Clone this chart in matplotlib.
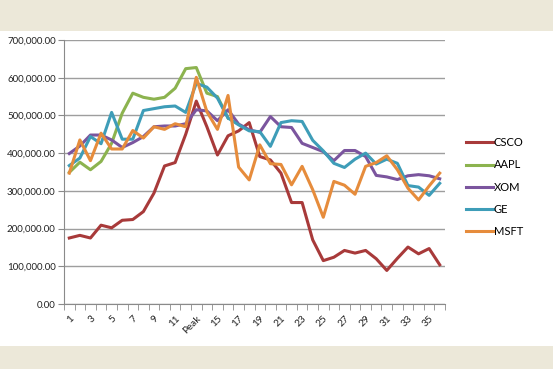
import numpy as np
import matplotlib
matplotlib.use("Agg")
import matplotlib.pyplot as plt
from matplotlib.patches import Rectangle
from matplotlib.ticker import FuncFormatter

# data (36 periods, peak at 13)
periods = list(range(1, 37))
tick_labels = ['1', '3', '5', '7', '9', '11', 'Peak', '15', '17', '19', '21',
               '23', '25', '27', '29', '31', '33', '35']

csco = [175000, 182000, 175000, 209000, 202000, 222000, 224000, 245000, 294000,
        366000, 375000, 450000, 538000, 470000, 395000, 446000, 459000, 481000,
        391000, 382000, 347000, 269000, 269000, 170000, 115000, 124000, 142000,
        135000, 142000, 120000, 89000, 121000, 151000, 133000, 147000, 104000]
aapl = [349000, 376000, 356000, 378000, 426000, 506000, 559000, 548000, 543000,
        548000, 572000, 624000, 627000, 559000, 550000, 493000] + [np.nan] * 20
xom = [399000, 419000, 448000, 448000, 435000, 415000, 428000, 444000, 470000,
       472000, 472000, 478000, 515000, 512000, 486000, 515000, 477000, 462000,
       455000, 497000, 470000, 468000, 426000, 415000, 404000, 380000, 407000,
       407000, 391000, 341000, 337000, 330000, 340000, 343000, 340000, 332000]
ge = [367000, 387000, 444000, 425000, 508000, 437000, 437000, 513000, 518000,
      523000, 525000, 508000, 585000, 575000, 546000, 493000, 475000, 459000,
      457000, 418000, 481000, 486000, 484000, 434000, 406000, 373000, 362000,
      384000, 400000, 371000, 384000, 373000, 314000, 310000, 288000, 320000]
msft = [347000, 435000, 380000, 453000, 411000, 411000, 460000, 440000, 470000,
        463000, 478000, 470000, 601000, 510000, 463000, 553000, 363000, 329000,
        422000, 372000, 370000, 316000, 365000, 303000, 230000, 325000, 315000,
        291000, 365000, 375000, 393000, 356000, 307000, 276000, 313000, 347000]

series = [('CSCO', csco, '#A83A3A'), ('AAPL', aapl, '#8CB34F'),
          ('XOM', xom, '#7B559E'), ('GE', ge, '#3E9DB8'),
          ('MSFT', msft, '#E68C3C')]

plt.rcParams['font.family'] = ['Lato', 'DejaVu Sans']

fig = plt.figure(figsize=(5.53, 3.69), dpi=100, facecolor='#ECE8D9')
fig.patches.append(Rectangle((0, 23 / 369), 1, (346 - 31) / 369, transform=fig.transFigure,
                             facecolor='white', edgecolor='none', zorder=-5))

ax = fig.add_axes([64 / 553, 65 / 369, 381 / 553, 264 / 369])
ax.set_zorder(2)
ax.set_facecolor('white')

for name, vals, col in series:
    ax.plot(periods, vals, color=col, lw=2.2, label=name, solid_joinstyle='round')

ax.set_xlim(0.5, 36.5)
ax.set_ylim(0, 700000)
ax.set_yticks(np.arange(0, 700001, 100000))
ax.yaxis.set_major_formatter(FuncFormatter(lambda v, p: f'{v:,.2f}'))
ax.grid(axis='y', color='#9E9E9E', lw=1)
ax.set_axisbelow(True)

ax.set_xticks(periods[::2])
ax.set_xticklabels(tick_labels, rotation=45, ha='right', rotation_mode='anchor')
ax.set_xticks(np.arange(0.5, 37, 1), minor=True)
ax.tick_params(axis='x', which='major', length=0, pad=7, labelsize=7.2, colors='#222222')
ax.tick_params(axis='x', which='minor', length=4, color='#8A8A8A', direction='out')
ax.tick_params(axis='y', length=4, color='#8A8A8A', labelsize=7, pad=2, colors='#222222')

for s in ['top', 'right']:
    ax.spines[s].set_visible(False)
ax.spines['left'].set_color('#8A8A8A')
ax.spines['bottom'].set_color('#8A8A8A')

ax.legend(loc='center left', bbox_to_anchor=(1.03, 0.443), frameon=False, fontsize=8,
          handlelength=2.4, handletextpad=0.05, labelspacing=1.0)

fig.savefig('out.png', dpi=100, facecolor=fig.get_facecolor())
